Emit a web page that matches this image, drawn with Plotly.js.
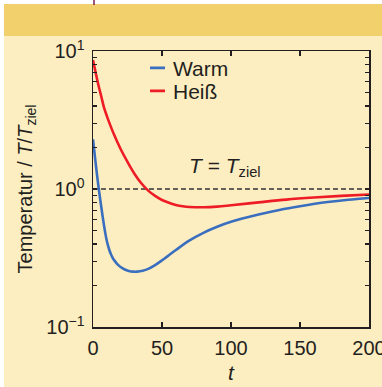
<!DOCTYPE html>
<html>
<head>
<meta charset="utf-8">
<script src="https://cdn.plot.ly/plotly-3.0.1.min.js"></script>
<style>html,body{margin:0;padding:0;background:#fff;}</style>
</head>
<body>
<div id="chart" style="width:382px;height:387px;"></div>
<script>
// Data
const tWarm = [0, 1, 2, 3, 4, 5, 6, 7, 8, 9, 10, 11, 12, 13, 14, 15, 16, 18, 20, 23, 26, 29, 32, 36, 40, 45, 50, 60, 70, 80, 90, 100, 120, 135, 150, 170, 185, 200];
const warm  = [2.291, 1.862, 1.514, 1.245, 1.035, 0.871, 0.741, 0.631, 0.543, 0.473, 0.422, 0.385, 0.357, 0.337, 0.321, 0.308, 0.299, 0.283, 0.272, 0.261, 0.255, 0.252, 0.252, 0.256, 0.264, 0.281, 0.304, 0.361, 0.424, 0.481, 0.532, 0.578, 0.653, 0.705, 0.750, 0.804, 0.836, 0.861];
const tHeiss = [0, 2, 4, 6, 8, 10, 12, 15, 20, 25, 30, 35, 40, 45, 50, 55, 60, 65, 70, 80, 90, 100, 120, 140, 160, 180, 200];
const heiss  = [8.59, 6.92, 5.62, 4.68, 3.89, 3.39, 2.99, 2.51, 1.95, 1.57, 1.29, 1.10, 0.973, 0.891, 0.832, 0.794, 0.767, 0.750, 0.741, 0.737, 0.745, 0.762, 0.80, 0.838, 0.867, 0.891, 0.912];
const tTarget = [0, 200];
const target  = [1, 1];
const seriesNames = ['Warm', 'Heiß'];
const yTickVals = [0.1,0.2,0.3,0.4,0.5,0.6,0.7,0.8,0.9,1,2,3,4,5,6,7,8,9,10];
const yTickText = yTickVals.map(v => v === 0.1 ? '10<sup>−1</sup>' : v === 1 ? '10<sup>0</sup>' : v === 10 ? '10<sup>1</sup>' : '');
const xTickVals = [0, 50, 100, 150, 200];

const ink = '#231f20';
const font = 'Liberation Sans, Arial, sans-serif';

const traces = [
  {x: tTarget, y: target, mode: 'lines', showlegend: false, hoverinfo: 'skip',
   line: {color: '#333333', width: 1.4, dash: '5px,3px'}},
  {x: tWarm, y: warm, name: seriesNames[0], mode: 'lines',
   line: {color: '#3a6ebe', width: 2.6, shape: 'spline', smoothing: 1}},
  {x: tHeiss, y: heiss, name: seriesNames[1], mode: 'lines',
   line: {color: '#ee1c25', width: 2.6, shape: 'spline', smoothing: 1}}
];

const layout = {
  width: 382, height: 387,
  margin: {l: 93, r: 13, t: 51, b: 60},
  paper_bgcolor: '#fdeec2',
  plot_bgcolor: 'rgba(0,0,0,0)',
  font: {family: font, color: ink, size: 20},
  showlegend: true,
  legend: {x: 0.145, y: 1.012, xanchor: 'left', yanchor: 'top', bgcolor: 'rgba(0,0,0,0)',
           font: {size: 21, color: ink}, borderwidth: 0, tracegroupgap: 0},
  xaxis: {range: [0, 200], tickvals: xTickVals, ticks: 'inside', ticklen: 5, tickwidth: 1.2,
          tickcolor: ink, showline: true, linecolor: ink, linewidth: 1.5, mirror: 'ticks',
          showgrid: false, zeroline: false, ticklabelstandoff: 2, ticklabeloverflow: 'allow',
          tickfont: {size: 20, color: ink},
          title: {text: '<i>t</i>', font: {size: 21, color: ink}, standoff: 8}},
  yaxis: {type: 'log', range: [-1, 1], tickvals: yTickVals, ticktext: yTickText,
          ticks: 'inside', ticklen: 4, tickwidth: 1.2, tickcolor: ink,
          showline: true, linecolor: ink, linewidth: 1.5, mirror: 'ticks',
          showgrid: false, zeroline: false, ticklabelstandoff: 3, ticklabeloverflow: 'allow',
          tickfont: {size: 20, color: ink},
          title: {text: 'Temperatur / <i>T</i>/<i>T</i><sub>ziel</sub>', font: {size: 20, color: ink}, standoff: 8}},
  shapes: [
    {type: 'rect', xref: 'paper', yref: 'paper', x0: -0.4, x1: (4-93)/276, y0: -0.4, y1: 1.3,
     fillcolor: '#ffffff', line: {width: 0}, layer: 'below'},
    {type: 'rect', xref: 'paper', yref: 'paper', x0: -0.4, x1: 1.2, y0: (327-4)/276, y1: 1.3,
     fillcolor: '#ffffff', line: {width: 0}, layer: 'below'},
    {type: 'rect', xref: 'paper', yref: 'paper', x0: (4-93)/276, x1: 1.2, y0: (327-36)/276, y1: (327-4)/276,
     fillcolor: '#f2d06b', line: {width: 0}, layer: 'below'},
    {type: 'line', xref: 'paper', yref: 'paper', x0: 1/276, x1: 1/276, y0: (327-5)/276, y1: 1.3,
     line: {color: '#7a1f4f', width: 1.5}, layer: 'above'}
  ],
  annotations: [
    {xref: 'x', yref: 'paper', x: 96, y: (327-167)/276, showarrow: false,
     text: '<i>T</i> = <i>T</i><sub>ziel</sub>', font: {size: 21, color: ink}}
  ]
};

Plotly.newPlot('chart', traces, layout, {displayModeBar: false, staticPlot: true}).then(() => {
  // shorter legend samples and tighter row spacing, as in the reference
  document.querySelectorAll('#chart .legendlines path').forEach(p => p.setAttribute('d', 'M17,0h15'));
  const items = document.querySelectorAll('#chart .legend .traces');
  const re = /translate\(([-\d.]+)[ ,]+([-\d.]+)\)/;
  const first = items.length ? re.exec(items[0].getAttribute('transform') || '') : null;
  const y0 = first ? parseFloat(first[2]) : 0;
  items.forEach((g, i) => {
    const m = re.exec(g.getAttribute('transform') || '');
    if (m) g.setAttribute('transform', 'translate(' + m[1] + ',' + (y0 + i * 23) + ')');
  });
});
</script>
</body>
</html>
